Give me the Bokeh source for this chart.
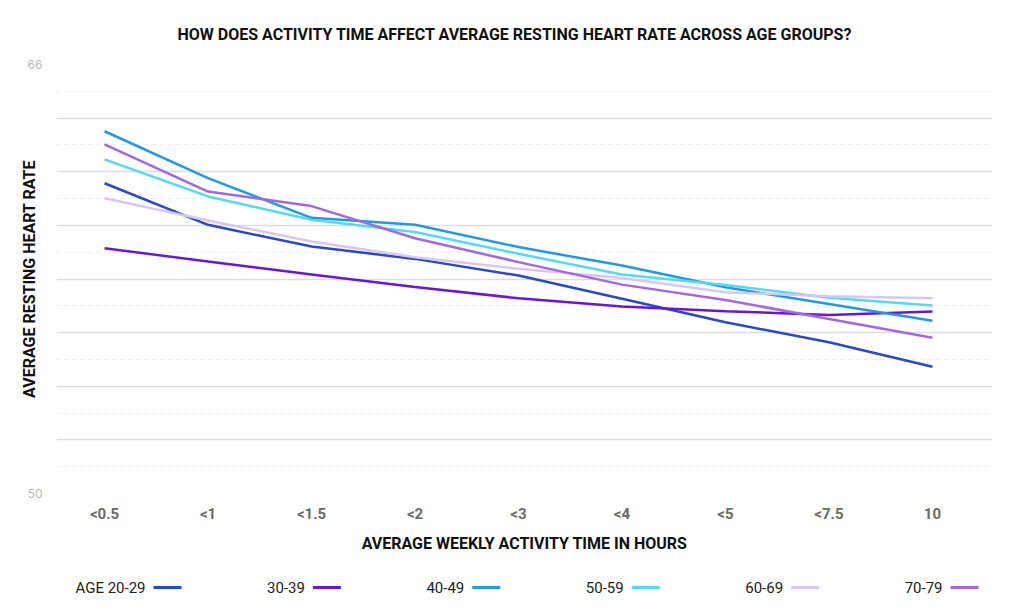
from bokeh.plotting import figure
from bokeh.models import FixedTicker, Range1d, Title
from bokeh.layouts import column
from bokeh.embed import file_html
from bokeh.resources import INLINE
from bokeh.core.properties import value

categories = ["<0.5", "<1", "<1.5", "<2", "<3", "<4", "<5", "<7.5", "10"]
age_groups = ["AGE 20-29", "30-39", "40-49", "50-59", "60-69", "70-79"]
hr_20_29 = [61.57, 60.02, 59.21, 58.75, 58.13, 57.26, 56.39, 55.64, 54.73]
hr_30_39 = [59.15, 58.65, 58.17, 57.70, 57.28, 56.97, 56.80, 56.66, 56.79]
hr_40_49 = [63.51, 61.76, 60.28, 60.02, 59.19, 58.50, 57.69, 57.07, 56.44]
hr_50_59 = [62.46, 61.08, 60.21, 59.75, 58.94, 58.17, 57.78, 57.30, 57.01]
hr_60_69 = [61.01, 60.18, 59.40, 58.81, 58.38, 58.04, 57.51, 57.36, 57.28]
hr_70_79 = [63.02, 61.26, 60.72, 59.52, 58.63, 57.79, 57.22, 56.51, 55.81]
colors = ["#2747d4", "#6a14e0", "#1e9be8", "#4fdcf0", "#d9c6f7", "#a366e6"]
y_ticks = [50, 66]
y_grid_major = [50, 52, 54, 56, 58, 60, 62, 64, 66]
y_grid_minor = [51, 53, 55, 57, 59, 61, 63, 65]

series = [hr_20_29, hr_30_39, hr_40_49, hr_50_59, hr_60_69, hr_70_79]

W = 1008
FONT = "Roboto"

p = figure(width=W, height=568, output_backend="svg", toolbar_location=None,
           x_range=Range1d(-0.464, 8.58), y_range=Range1d(50, 66),
           min_border_left=56, min_border_right=16, min_border_top=64,
           min_border_bottom=75)
p.outline_line_color = None
p.background_fill_color = "white"
p.border_fill_color = "white"

t = Title(text="HOW DOES ACTIVITY TIME AFFECT AVERAGE RESTING HEART RATE ACROSS AGE GROUPS?",
          align="left", text_font=FONT, text_font_size="16px",
          text_font_style="bold", text_color="#111111", standoff=41, offset=121)
p.add_layout(t, "above")

xs = list(range(len(categories)))
p.xaxis.ticker = FixedTicker(ticks=xs)
p.xaxis.major_label_overrides = {i: c for i, c in enumerate(categories)}
p.xaxis.axis_line_color = None
p.xaxis.major_tick_line_color = None
p.xaxis.minor_tick_line_color = None
p.xaxis.major_tick_out = 0
p.xaxis.major_tick_in = 0
p.xaxis.major_label_text_font = FONT
p.xaxis.major_label_text_font_size = "15px"
p.xaxis.major_label_text_font_style = "bold"
p.xaxis.major_label_text_color = "#6a6a6a"
p.xaxis.major_label_standoff = 11
p.xaxis.axis_label = "AVERAGE WEEKLY ACTIVITY TIME IN HOURS"
p.xaxis.axis_label_text_font = FONT
p.xaxis.axis_label_text_font_size = "16px"
p.xaxis.axis_label_text_font_style = "bold"
p.xaxis.axis_label_text_color = "#111111"
p.xaxis.axis_label_standoff = 8

p.yaxis.ticker = FixedTicker(ticks=y_ticks)
p.yaxis.axis_line_color = None
p.yaxis.major_tick_line_color = None
p.yaxis.minor_tick_line_color = None
p.yaxis.major_tick_out = 0
p.yaxis.major_tick_in = 0
p.yaxis.major_label_text_font = "Inter"
p.yaxis.major_label_text_font_size = "12px"
p.yaxis.major_label_text_color = "#b8b8b8"
p.yaxis.major_label_standoff = 14
p.yaxis.axis_label = "AVERAGE RESTING HEART RATE"
p.yaxis.axis_label_text_font = FONT
p.yaxis.axis_label_text_font_size = "16px"
p.yaxis.axis_label_text_font_style = "bold"
p.yaxis.axis_label_text_color = "#111111"
p.yaxis.axis_label_standoff = -14

p.xgrid.visible = False
p.ygrid.ticker = FixedTicker(ticks=y_grid_major, minor_ticks=y_grid_minor)
p.ygrid.grid_line_color = "#dddddd"
p.ygrid.grid_line_width = 1.5
p.ygrid.minor_grid_line_color = "#ececec"
p.ygrid.minor_grid_line_dash = "4 4"
p.ygrid.minor_grid_line_width = 1

for vals, col in zip(series, colors):
    p.line(xs, vals, line_color=col, line_width=2.5)

# legend strip below (label followed by line swatch); its frame aligns with the main frame (56..992)
leg = figure(width=W, height=40, output_backend="svg", toolbar_location=None,
             x_range=Range1d(56, 992), y_range=Range1d(0, 40), min_border=0,
             min_border_left=56, min_border_right=16,
             x_axis_location=None, y_axis_location=None)
leg.outline_line_color = None
leg.xgrid.visible = False
leg.ygrid.visible = False
n = len(age_groups)
line_start = [153 + i * 159.4 for i in range(n)]
line_end = [s + 28 for s in line_start]
text_x = [s - 8 for s in line_start]
yy = [21] * n
leg.text(x=text_x, y=yy, text=age_groups, text_align="right", text_baseline="middle",
         text_font=value(FONT), text_font_size="15px", text_color="#222222")
leg.segment(x0=line_start, y0=yy, x1=line_end, y1=yy, line_color=colors, line_width=3)

layout = column(p, leg, spacing=0)
open("out.html", "w").write(file_html(layout, INLINE))
